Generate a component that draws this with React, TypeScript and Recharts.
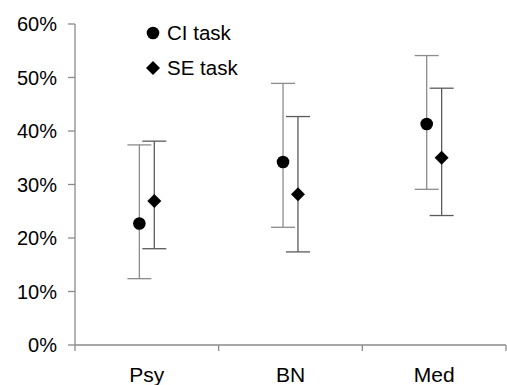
import React from "react";
import {
  ErrorBar,
  Legend,
  Scatter,
  ScatterChart,
  XAxis,
  YAxis,
} from "recharts";

const CATEGORIES = ["Psy", "BN", "Med"];

const CI_MEAN = [22.7, 34.2, 41.3];
const CI_LOW = [12.4, 22.0, 29.1];
const CI_HIGH = [37.4, 48.9, 54.1];

const SE_MEAN = [26.9, 28.2, 35.0];
const SE_LOW = [18.0, 17.4, 24.2];
const SE_HIGH = [38.1, 42.7, 48.0];

const Y_TICKS = [0, 10, 20, 30, 40, 50, 60];

const FONT = "Arial, 'Liberation Sans', sans-serif";
const AXIS_GREY = "#8a8a8a";
const SHIFT = 0.052; // side-by-side offset inside a category

const build = (mean: number[], low: number[], high: number[], side: number) =>
  mean.map((m, i) => ({
    x: i + 0.5 + side * SHIFT,
    y: m,
    err: [m - low[i], high[i] - m],
  }));

const ciData = build(CI_MEAN, CI_LOW, CI_HIGH, -1);
const seData = build(SE_MEAN, SE_LOW, SE_HIGH, 1);

const xTicks = [0, 0.5, 1, 1.5, 2, 2.5, 3];

function CircleDot(props: any) {
  const { cx, cy } = props;
  return <circle cx={cx} cy={cy} r={6.3} fill="#000" />;
}

function DiamondDot(props: any) {
  const { cx, cy } = props;
  const h = 7;
  return (
    <polygon
      points={`${cx},${cy - h} ${cx + h},${cy} ${cx},${cy + h} ${cx - h},${cy}`}
      fill="#000"
    />
  );
}

function CategoryTick(props: any) {
  const { x, y, payload } = props;
  const v = payload.value;
  if (Number.isInteger(v)) {
    return <line x1={x} y1={y} x2={x} y2={y + 6} stroke={AXIS_GREY} strokeWidth={1.3} />;
  }
  return (
    <text x={x} y={y + 37} textAnchor="middle" fontSize={21} fontFamily={FONT} fill="#000">
      {CATEGORIES[Math.floor(v)]}
    </text>
  );
}

function LegendBox(props: any) {
  const items = props.payload || [];
  return (
    <div style={{ fontFamily: FONT, fontSize: 20.5, color: "#000" }}>
      {items.map((it: any, i: number) => (
        <div key={it.value} style={{ display: "flex", alignItems: "center", height: 35 }}>
          <svg width={14} height={14} style={{ marginRight: 7 }}>
            {i === 0 ? (
              <circle cx={7} cy={7} r={6.3} fill="#000" />
            ) : (
              <polygon points="7,0 14,7 7,14 0,7" fill="#000" />
            )}
          </svg>
          <span>{it.value}</span>
        </div>
      ))}
    </div>
  );
}

export default function App() {
  return (
    <div style={{ position: "absolute", left: 0, top: 0, background: "#fff" }}>
      <ScatterChart
        width={507}
        height={385}
        margin={{ top: 24, right: 1, bottom: 0, left: 0 }}
      >
        <XAxis
          type="number"
          dataKey="x"
          domain={[0, 3]}
          ticks={xTicks}
          interval={0}
          height={40}
          tickLine={false}
          tickSize={0}
          tickMargin={0}
          tick={<CategoryTick />}
          axisLine={{ stroke: AXIS_GREY, strokeWidth: 1.3 }}
        />
        <YAxis
          type="number"
          dataKey="y"
          domain={[0, 60]}
          ticks={Y_TICKS}
          interval={0}
          width={75}
          tickSize={7}
          tickMargin={11}
          tickFormatter={(v: number) => `${v}%`}
          tick={{ fontSize: 20, fontFamily: FONT, fill: "#000" }}
          tickLine={{ stroke: AXIS_GREY, strokeWidth: 1.3 }}
          axisLine={{ stroke: AXIS_GREY, strokeWidth: 1.3 }}
        />
        <Legend
          layout="horizontal"
          verticalAlign="middle"
          align="center"
          content={<LegendBox />}
          wrapperStyle={{ top: 15, left: 146, width: "auto", height: "auto" }}
        />
        <Scatter name="CI task" data={ciData} shape={<CircleDot />} isAnimationActive={false}>
          <ErrorBar dataKey="err" direction="y" width={12} stroke="#8c8c8c" strokeWidth={1.3} />
        </Scatter>
        <Scatter name="SE task" data={seData} shape={<DiamondDot />} isAnimationActive={false}>
          <ErrorBar dataKey="err" direction="y" width={12} stroke="#5a5a5a" strokeWidth={1.3} />
        </Scatter>
      </ScatterChart>
    </div>
  );
}
